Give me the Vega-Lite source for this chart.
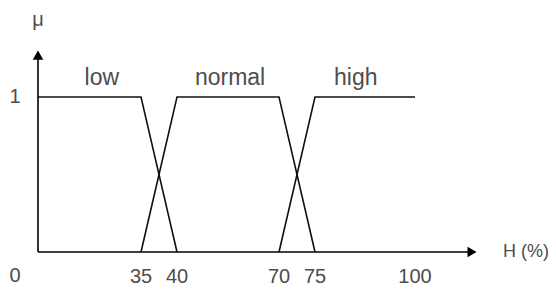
{
  "$schema": "https://vega.github.io/schema/vega-lite/v6.json",
  "width": 556,
  "height": 289,
  "autosize": {"type": "none"},
  "padding": 0,
  "background": "white",
  "config": {"view": {"stroke": null}},
  "datasets": {
    "membership": [
      {"set": "low", "order": 1, "h": 0, "mu": 1},
      {"set": "low", "order": 2, "h": 35, "mu": 1},
      {"set": "low", "order": 3, "h": 40, "mu": 0},
      {"set": "normal", "order": 1, "h": 35, "mu": 0},
      {"set": "normal", "order": 2, "h": 40, "mu": 1},
      {"set": "normal", "order": 3, "h": 70, "mu": 1},
      {"set": "normal", "order": 4, "h": 75, "mu": 0},
      {"set": "high", "order": 1, "h": 70, "mu": 0},
      {"set": "high", "order": 2, "h": 75, "mu": 1},
      {"set": "high", "order": 3, "h": 100, "mu": 1}
    ],
    "setLabels": [
      {"label": "low", "h": 21.7, "mu": 1.077},
      {"label": "normal", "h": 55.6, "mu": 1.077},
      {"label": "high", "h": 85.2, "mu": 1.077}
    ],
    "ticks": [
      {"label": "35", "h": 35},
      {"label": "40", "h": 40},
      {"label": "70", "h": 70},
      {"label": "75", "h": 75},
      {"label": "100", "h": 100}
    ],
    "origin": [
      {"label": "0", "h": 0, "mu": -0.155},
      {"label": "1", "h": 0, "mu": 1}
    ]
  },
  "encoding": {
    "x": {"type": "quantitative", "scale": {"domain": [0, 35, 40, 70, 75, 100, 120], "range": [38, 141, 177, 279, 315, 415, 485]}, "axis": null},
    "y": {"type": "quantitative", "scale": {"domain": [0, 1], "range": [252, 97]}, "axis": null}
  },
  "layer": [
    {
      "data": {"values": [{"h0": 0, "h1": 117, "mu0": 0, "mu1": 0}, {"h0": 0, "h1": 0, "mu0": 0, "mu1": 1.27}]},
      "mark": {"type": "rule", "color": "#000", "strokeWidth": 1.6},
      "encoding": {
        "x": {"field": "h0", "type": "quantitative"},
        "x2": {"field": "h1"},
        "y": {"field": "mu0", "type": "quantitative"},
        "y2": {"field": "mu1"}
      }
    },
    {
      "data": {"values": [{"h": 116.3, "mu": 0}]},
      "mark": {"type": "point", "shape": "triangle-right", "filled": true, "color": "#000", "opacity": 1, "size": 110},
      "encoding": {"x": {"field": "h", "type": "quantitative"}, "y": {"field": "mu", "type": "quantitative"}}
    },
    {
      "data": {"values": [{"h": 0, "mu": 1.27}]},
      "mark": {"type": "point", "shape": "triangle-up", "filled": true, "color": "#000", "opacity": 1, "size": 110},
      "encoding": {"x": {"field": "h", "type": "quantitative"}, "y": {"field": "mu", "type": "quantitative"}}
    },
    {
      "data": {"name": "membership"},
      "mark": {"type": "line", "color": "#111", "strokeWidth": 1.6},
      "encoding": {
        "x": {"field": "h", "type": "quantitative"},
        "y": {"field": "mu", "type": "quantitative"},
        "detail": {"field": "set"},
        "order": {"field": "order"}
      }
    },
    {
      "data": {"name": "setLabels"},
      "mark": {"type": "text", "font": "Liberation Sans", "fontSize": 23, "color": "#4d4d4d", "baseline": "alphabetic"},
      "encoding": {"x": {"field": "h", "type": "quantitative"}, "y": {"field": "mu", "type": "quantitative"}, "text": {"field": "label"}}
    },
    {
      "data": {"name": "ticks"},
      "mark": {"type": "text", "font": "Liberation Sans", "fontSize": 20, "color": "#4d4d4d", "baseline": "middle"},
      "encoding": {"x": {"field": "h", "type": "quantitative"}, "y": {"datum": -0.16, "type": "quantitative"}, "text": {"field": "label"}}
    },
    {
      "data": {"name": "origin"},
      "mark": {"type": "text", "font": "Liberation Sans", "fontSize": 20, "color": "#4d4d4d", "baseline": "middle", "dx": -23},
      "encoding": {"x": {"field": "h", "type": "quantitative"}, "y": {"field": "mu", "type": "quantitative"}, "text": {"field": "label"}}
    },
    {
      "data": {"values": [{"label": "μ", "h": 0, "mu": 1.5}]},
      "mark": {"type": "text", "font": "Liberation Sans", "fontSize": 20, "color": "#4d4d4d", "baseline": "middle"},
      "encoding": {"x": {"field": "h", "type": "quantitative"}, "y": {"field": "mu", "type": "quantitative"}, "text": {"field": "label"}}
    },
    {
      "data": {"values": [{"label": "H (%)", "h": 120, "mu": 0}]},
      "mark": {"type": "text", "font": "Liberation Sans", "fontSize": 18, "color": "#4d4d4d", "baseline": "middle", "align": "left", "dx": 18},
      "encoding": {"x": {"field": "h", "type": "quantitative"}, "y": {"field": "mu", "type": "quantitative"}, "text": {"field": "label"}}
    }
  ]
}
